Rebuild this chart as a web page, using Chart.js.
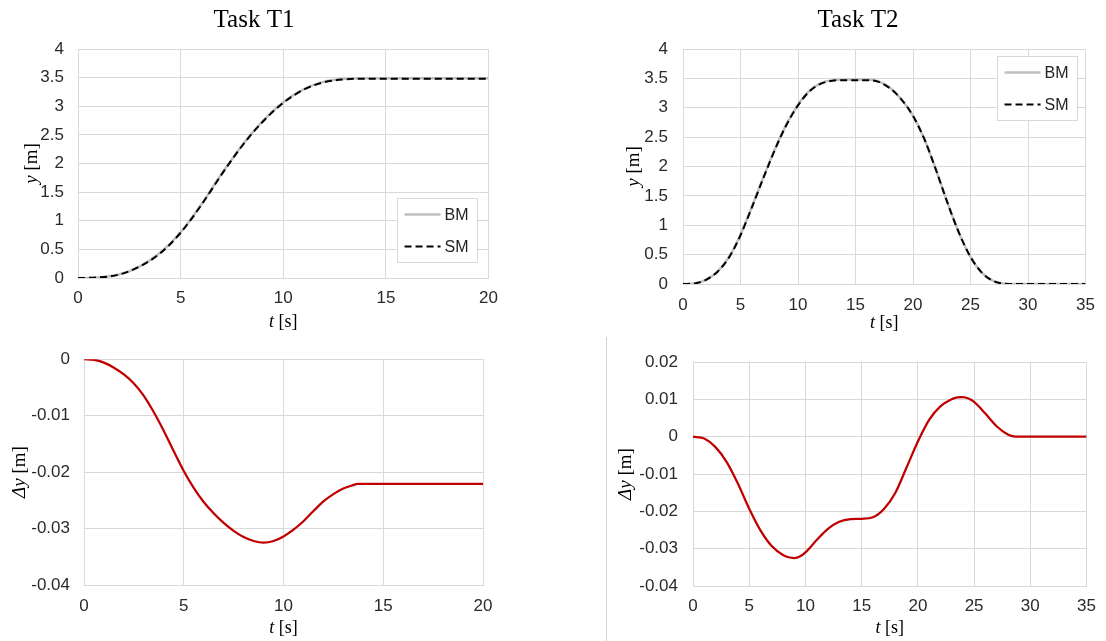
<!DOCTYPE html>
<html>
<head>
<meta charset="utf-8">
<script src="https://cdn.jsdelivr.net/npm/chart.js@4/dist/chart.umd.min.js"></script>
<style>
  html, body { margin: 0; padding: 0; background: #fff; }
  body { width: 1106px; height: 641px; position: relative; overflow: hidden; }
  canvas { position: absolute; }
  #sep { position: absolute; left: 606px; top: 337px; width: 1px; height: 304px; background: #d0d0d0; }
</style>
</head>
<body>
<canvas id="c1" width="508" height="335" style="left:0;top:0"></canvas>
<canvas id="c2" width="496" height="335" style="left:610px;top:0"></canvas>
<canvas id="c3" width="508" height="306" style="left:0;top:335px"></canvas>
<canvas id="c4" width="496" height="306" style="left:610px;top:335px"></canvas>
<div id="sep"></div>
<script>
// Task T1: position y [m]
const t1Time = [0, 1, 2, 3, 4, 5, 6, 7, 8, 9, 10, 11, 12, 13, 14, 15, 16, 17, 18, 19, 20];
const t1BM = [0, 0.01, 0.06, 0.2, 0.44, 0.8, 1.28, 1.82, 2.32, 2.74, 3.07, 3.3, 3.43, 3.48, 3.49, 3.49, 3.49, 3.49, 3.49, 3.49, 3.49];
const t1SM = [0, 0.01, 0.06, 0.2, 0.43, 0.79, 1.27, 1.81, 2.31, 2.73, 3.06, 3.29, 3.42, 3.47, 3.48, 3.48, 3.48, 3.48, 3.48, 3.48, 3.48];

// Task T2: position y [m]
const t2Time = [0, 1, 2, 3, 4, 5, 6, 7, 8, 9, 10, 11, 12, 13, 14, 15, 16, 17, 18, 19, 20, 21, 22, 23, 24, 25, 26, 27, 28, 29, 30, 31, 32, 33, 34, 35];
const t2BM = [0, 0.01, 0.07, 0.21, 0.46, 0.84, 1.32, 1.82, 2.3, 2.72, 3.05, 3.29, 3.42, 3.47, 3.48, 3.48, 3.48, 3.45, 3.34, 3.14, 2.86, 2.46, 1.94, 1.38, 0.87, 0.46, 0.19, 0.05, 0.005, 0, 0, 0, 0, 0, 0, 0];
const t2SM = [0, 0.01, 0.07, 0.21, 0.45, 0.83, 1.31, 1.81, 2.29, 2.71, 3.04, 3.28, 3.41, 3.46, 3.47, 3.47, 3.47, 3.44, 3.33, 3.14, 2.86, 2.46, 1.94, 1.38, 0.87, 0.46, 0.19, 0.05, 0.005, 0, 0, 0, 0, 0, 0, 0];

// Task T1: deviation Δy [m]
const t1DyTime = [0, 0.5, 1, 1.5, 2, 2.5, 3, 3.5, 4, 4.5, 5, 5.5, 6, 6.5, 7, 7.5, 8, 8.5, 9, 9.5, 10, 10.5, 11, 11.5, 12, 12.5, 13, 13.5, 13.7, 15, 17, 20];
const t1Dy = [0, -0.0001, -0.0006, -0.0015, -0.0027, -0.0043, -0.0065, -0.0094, -0.0127, -0.0163, -0.0198, -0.0228, -0.0253, -0.0273, -0.029, -0.0304, -0.0315, -0.0322, -0.0325, -0.0322, -0.0314, -0.0302, -0.0287, -0.0269, -0.0252, -0.0239, -0.0229, -0.0223, -0.0221, -0.0221, -0.0221, -0.0221];

// Task T2: deviation Δy [m]
const t2DyTime = [0, 1, 2, 3, 4, 5, 6, 7, 8, 8.5, 9, 9.5, 10, 11, 12, 13, 14, 15, 16, 17, 18, 19, 20, 21, 22, 23, 23.5, 24, 24.5, 25, 26, 27, 28, 28.7, 30, 32, 35];
const t2Dy = [0, -0.0005, -0.0028, -0.0068, -0.0126, -0.0193, -0.0251, -0.0293, -0.0317, -0.0323, -0.0325, -0.0321, -0.031, -0.0277, -0.0247, -0.0228, -0.0221, -0.022, -0.0216, -0.0193, -0.015, -0.0082, -0.0013, 0.0045, 0.0081, 0.01, 0.0105, 0.0106, 0.0102, 0.0093, 0.0062, 0.0028, 0.0006, 0, 0, 0, 0];

// tick values
const xTicksT1 = [0, 5, 10, 15, 20];
const xTicksT2 = [0, 5, 10, 15, 20, 25, 30, 35];
const yTicksPos = [0, 0.5, 1, 1.5, 2, 2.5, 3, 3.5, 4];
const yTicksDyT1 = [-0.04, -0.03, -0.02, -0.01, 0];
const yTicksDyT2 = [-0.04, -0.03, -0.02, -0.01, 0, 0.01, 0.02];

const SANS = '"Liberation Sans", Arial, sans-serif';
const SERIF = '"Liberation Serif", "Times New Roman", serif';
const GRID = '#d9d9d9';

function pts(xs, ys) {
  return xs.map((x, i) => ({ x: x, y: ys[i] }));
}

// draws text made of [text, italic] parts centred on (cx, cy)
function drawParts(ctx, parts, cx, cy, size) {
  let widths = parts.map(p => {
    ctx.font = (p[1] ? 'italic ' : '') + size + 'px ' + SERIF;
    return ctx.measureText(p[0]).width;
  });
  let total = widths.reduce((a, b) => a + b, 0);
  let x = cx - total / 2;
  ctx.textAlign = 'left';
  ctx.textBaseline = 'middle';
  parts.forEach((p, i) => {
    ctx.font = (p[1] ? 'italic ' : '') + size + 'px ' + SERIF;
    ctx.fillText(p[0], x, cy);
    x += widths[i];
  });
}

const axisTitles = {
  id: 'axisTitles',
  afterDraw(chart, args, opts) {
    const ctx = chart.ctx, a = chart.chartArea;
    ctx.save();
    ctx.fillStyle = '#000';
    drawParts(ctx, opts.x, (a.left + a.right) / 2, a.bottom + opts.xGap, 18);
    ctx.translate(opts.yX, (a.top + a.bottom) / 2);
    ctx.rotate(-Math.PI / 2);
    drawParts(ctx, opts.y, 0, 0, 19);
    ctx.restore();
  }
};

// boxed legend inside the plot area
const boxLegend = {
  id: 'boxLegend',
  afterDraw(chart, args, opts) {
    if (!opts.show) return;
    const ctx = chart.ctx, a = chart.chartArea;
    const w = 80, h = 64;
    const left = a.right - opts.right - w;
    const top = opts.top != null ? a.top + opts.top : a.bottom - opts.bottom - h;
    ctx.save();
    ctx.fillStyle = '#fff';
    ctx.fillRect(left, top, w, h);
    ctx.strokeStyle = GRID;
    ctx.lineWidth = 1;
    ctx.strokeRect(Math.round(left) + 0.5, Math.round(top) + 0.5, w, h);
    [0, 1].forEach((di, row) => {
      const ds = chart.data.datasets[di];
      const y = top + 16.5 + row * 32;
      ctx.beginPath();
      ctx.strokeStyle = ds.borderColor;
      ctx.lineWidth = ds.borderWidth;
      ctx.setLineDash(ds.borderDash || []);
      ctx.moveTo(left + 8, y);
      ctx.lineTo(left + 44, y);
      ctx.stroke();
      ctx.setLineDash([]);
      ctx.fillStyle = '#222';
      ctx.font = '16px ' + SANS;
      ctx.textAlign = 'left';
      ctx.textBaseline = 'middle';
      ctx.fillText(ds.label, left + 48, y + 1);
    });
    ctx.restore();
  }
};

function makeChart(id, o) {
  return new Chart(document.getElementById(id), {
    type: 'line',
    data: { datasets: o.datasets },
    options: {
      responsive: false,
      animation: false,
      events: [],
      layout: { padding: o.padding },
      elements: { point: { radius: 0 }, line: { cubicInterpolationMode: 'monotone' } },
      scales: {
        x: {
          type: 'linear',
          min: o.xTicks[0],
          max: o.xTicks[o.xTicks.length - 1],
          afterBuildTicks: s => { s.ticks = o.xTicks.map(v => ({ value: v })); },
          afterFit: s => { s.height = o.xHeight; },
          grid: { color: GRID, drawTicks: false, lineWidth: 1 },
          border: { color: GRID },
          ticks: { padding: o.xPad, color: '#2a2a2a', font: { family: SANS, size: 17 }, maxRotation: 0, callback: v => String(v) }
        },
        y: {
          min: o.yTicks[0],
          max: o.yTicks[o.yTicks.length - 1],
          afterBuildTicks: s => { s.ticks = o.yTicks.map(v => ({ value: v })); },
          afterFit: s => { s.width = o.yWidth; },
          grid: { color: GRID, drawTicks: false, lineWidth: 1 },
          border: { color: GRID },
          ticks: { padding: o.yPad, color: '#2a2a2a', font: { family: SANS, size: 17 }, callback: v => String(v) }
        }
      },
      plugins: {
        legend: { display: false },
        tooltip: { enabled: false },
        title: {
          display: !!o.title,
          text: o.title || '',
          color: '#000',
          font: { family: SERIF, size: 25, weight: 'normal' },
          padding: { top: 5, bottom: 14 }
        },
        axisTitles: o.axis,
        boxLegend: o.legend || { show: false }
      }
    },
    plugins: [axisTitles, boxLegend]
  });
}

function posSets(time, bm, sm) {
  return [
    { label: 'BM', data: pts(time, bm), borderColor: '#bfbfbf', borderWidth: 2.5, order: 1 },
    { label: 'SM', data: pts(time, sm), borderColor: '#000', borderWidth: 2, borderDash: [7, 4], order: 0 }
  ];
}

function dySet(time, dy) {
  return [{ label: 'Δy', data: pts(time, dy), borderColor: '#c00000', borderWidth: 2.25 }];
}

const tTitle = [['t', true], [' [s]', false]];
const yTitle = [['y', true], [' [m]', false]];
const dyTitle = [['Δy', true], [' [m]', false]];

makeChart('c1', {
  title: 'Task T1',
  datasets: posSets(t1Time, t1BM, t1SM),
  xTicks: xTicksT1, yTicks: yTicksPos,
  padding: { left: 19, right: 19, top: 0, bottom: 0 },
  yWidth: 59, xHeight: 57, xPad: 10, yPad: 14,
  axis: { x: tTitle, y: yTitle, xGap: 44, yX: 32 },
  legend: { show: true, right: 12, bottom: 16 }
});

makeChart('c2', {
  title: 'Task T2',
  datasets: posSets(t2Time, t2BM, t2SM),
  xTicks: xTicksT2, yTicks: yTicksPos,
  padding: { left: 15, right: 15, top: 0, bottom: 0 },
  yWidth: 58, xHeight: 51, xPad: 11, yPad: 15,
  axis: { x: tTitle, y: yTitle, xGap: 39, yX: 24 },
  legend: { show: true, right: 9, top: 7 }
});

makeChart('c3', {
  datasets: dySet(t1DyTime, t1Dy),
  xTicks: xTicksT1, yTicks: yTicksDyT1,
  padding: { left: 0, right: 25, top: 21, bottom: 0 },
  yWidth: 84, xHeight: 56, xPad: 11, yPad: 14,
  axis: { x: tTitle, y: dyTitle, xGap: 43, yX: 20 }
});

makeChart('c4', {
  datasets: dySet(t2DyTime, t2Dy),
  xTicks: xTicksT2, yTicks: yTicksDyT2,
  padding: { left: 0, right: 18, top: 27, bottom: 0 },
  yWidth: 83, xHeight: 55, xPad: 10, yPad: 15,
  axis: { x: tTitle, y: dyTitle, xGap: 42, yX: 16 }
});
</script>
</body>
</html>
